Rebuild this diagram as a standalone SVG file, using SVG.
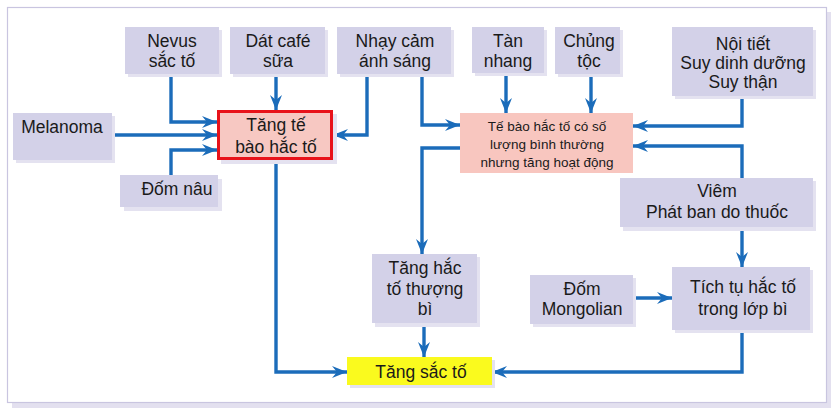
<svg xmlns="http://www.w3.org/2000/svg" width="838" height="411" viewBox="0 0 838 411">
<style>
.bg{fill:#ffffff}
.frame{fill:#ffffff;stroke:#c9c5e0;stroke-width:1.2}
.frameSh{fill:#e3e0ef}
.box{fill:#d3d1e8}
.sh{fill:#e4e2f0}
.pink{fill:#f8c6bf}
.red{fill:#f7c8c2;stroke:#e8121a;stroke-width:3}
.yel{fill:#fafa1e}
text{font-family:"Liberation Sans",Arial,sans-serif;font-size:17.5px;fill:#1a1a1a;text-anchor:middle}
.sm{font-size:13.5px}
.c{fill:none;stroke:#1b6cba;stroke-width:3.4;marker-end:url(#ah)}
</style>
<defs>
<marker id="ah" markerUnits="userSpaceOnUse" markerWidth="16" markerHeight="12" refX="15" refY="6" orient="auto">
<path d="M0,0 L15,6 L0,12 L5,6 z" fill="#1b6cba"/>
</marker>
</defs>
<rect class="bg" x="0" y="0" width="838" height="411"/>
<rect class="frameSh" x="12" y="12" width="819" height="396"/>
<rect class="frame" x="7.5" y="7.5" width="819" height="395"/>

<g id="connectors">
<path class="c" d="M171,74 V122 H217"/>
<path class="c" d="M112,135 H217"/>
<path class="c" d="M171,175 V150 H217"/>
<path class="c" d="M276,74 V110"/>
<path class="c" d="M367,74 V135 H333"/>
<path class="c" d="M422,74 V125 H460"/>
<path class="c" d="M506,73 V113"/>
<path class="c" d="M591,74 V113"/>
<path class="c" d="M742,96 V126 H633"/>
<path class="c" d="M742,178 V146 H633"/>
<path class="c" d="M742,227 V267"/>
<path class="c" d="M460,148 H422 V254"/>
<path class="c" d="M424,323 V357"/>
<path class="c" d="M276,160 V372 H347"/>
<path class="c" d="M633,298 H672"/>
<path class="c" d="M742,330 V372 H492"/>
</g>

<g id="nevus">
<rect class="sh" x="128" y="30" width="94" height="47"/>
<rect class="box" x="125" y="27" width="94" height="47"/>
<text x="172" y="47">Nevus</text><text x="172" y="67">sắc tố</text>
</g>
<g id="datcafe">
<rect class="sh" x="233" y="30" width="95" height="47"/>
<rect class="box" x="230" y="27" width="95" height="47"/>
<text x="278" y="47">Dát café</text><text x="278" y="67">sữa</text>
</g>
<g id="nhaycam">
<rect class="sh" x="340" y="30" width="114" height="47"/>
<rect class="box" x="337" y="27" width="114" height="47"/>
<text x="395" y="47">Nhạy cảm</text><text x="395" y="67">ánh sáng</text>
</g>
<g id="tannhang">
<rect class="sh" x="475" y="30" width="72" height="46"/>
<rect class="box" x="472" y="27" width="72" height="46"/>
<text x="508" y="47">Tàn</text><text x="508" y="67">nhang</text>
</g>
<g id="chungtoc">
<rect class="sh" x="558" y="30" width="65" height="47"/>
<rect class="box" x="555" y="27" width="65" height="47"/>
<text x="589" y="47">Chủng</text><text x="589" y="67">tộc</text>
</g>
<g id="noitiet">
<rect class="sh" x="675" y="30" width="141" height="69"/>
<rect class="box" x="672" y="27" width="141" height="69"/>
<text x="743" y="50">Nội tiết</text><text x="743" y="69">Suy dinh dưỡng</text><text x="743" y="88">Suy thận</text>
</g>
<g id="melanoma">
<rect class="sh" x="16" y="116" width="99" height="47"/>
<rect class="box" x="13" y="113" width="99" height="47"/>
<text x="62" y="133">Melanoma</text>
</g>
<g id="tangtebao">
<rect class="sh" x="221" y="114" width="116" height="50"/>
<rect class="red" x="218.5" y="111.5" width="113" height="47"/>
<text x="276" y="131">Tăng tế</text><text x="276" y="153">bào hắc tố</text>
</g>
<g id="domnau">
<rect class="sh" x="124" y="179" width="98" height="32"/>
<rect class="box" x="120" y="175" width="98" height="32"/>
<text x="177" y="195">Đốm nâu</text>
</g>
<g id="tebao">
<rect class="pink" x="460" y="113" width="173" height="60"/>
<text class="sm" x="547" y="131">Tế bào hắc tố có số</text>
<text class="sm" x="547" y="149">lượng bình thường</text>
<text class="sm" x="547" y="167">nhưng tăng hoạt động</text>
</g>
<g id="viem">
<rect class="sh" x="623" y="181" width="193" height="50"/>
<rect class="box" x="620" y="178" width="193" height="49"/>
<text x="717" y="197">Viêm</text><text x="717" y="218">Phát ban do thuốc</text>
</g>
<g id="tanghacto">
<rect class="sh" x="375" y="257" width="105" height="70"/>
<rect class="box" x="372" y="254" width="105" height="69"/>
<text x="425" y="274">Tăng hắc</text><text x="425" y="295">tố thượng</text><text x="425" y="315">bì</text>
</g>
<g id="dommongolian">
<rect class="sh" x="533" y="278" width="103" height="49"/>
<rect class="box" x="530" y="275" width="103" height="49"/>
<text x="582" y="295">Đốm</text><text x="582" y="315">Mongolian</text>
</g>
<g id="tichtu">
<rect class="sh" x="675" y="270" width="138" height="63"/>
<rect class="box" x="672" y="267" width="138" height="63"/>
<text x="743" y="293">Tích tụ hắc tố</text><text x="743" y="315">trong lớp bì</text>
</g>
<g id="tangsacto">
<rect class="sh" x="350" y="360" width="145" height="28"/>
<rect class="yel" x="347" y="357" width="145" height="28"/>
<text x="421" y="378">Tăng sắc tố</text>
</g>
</svg>
